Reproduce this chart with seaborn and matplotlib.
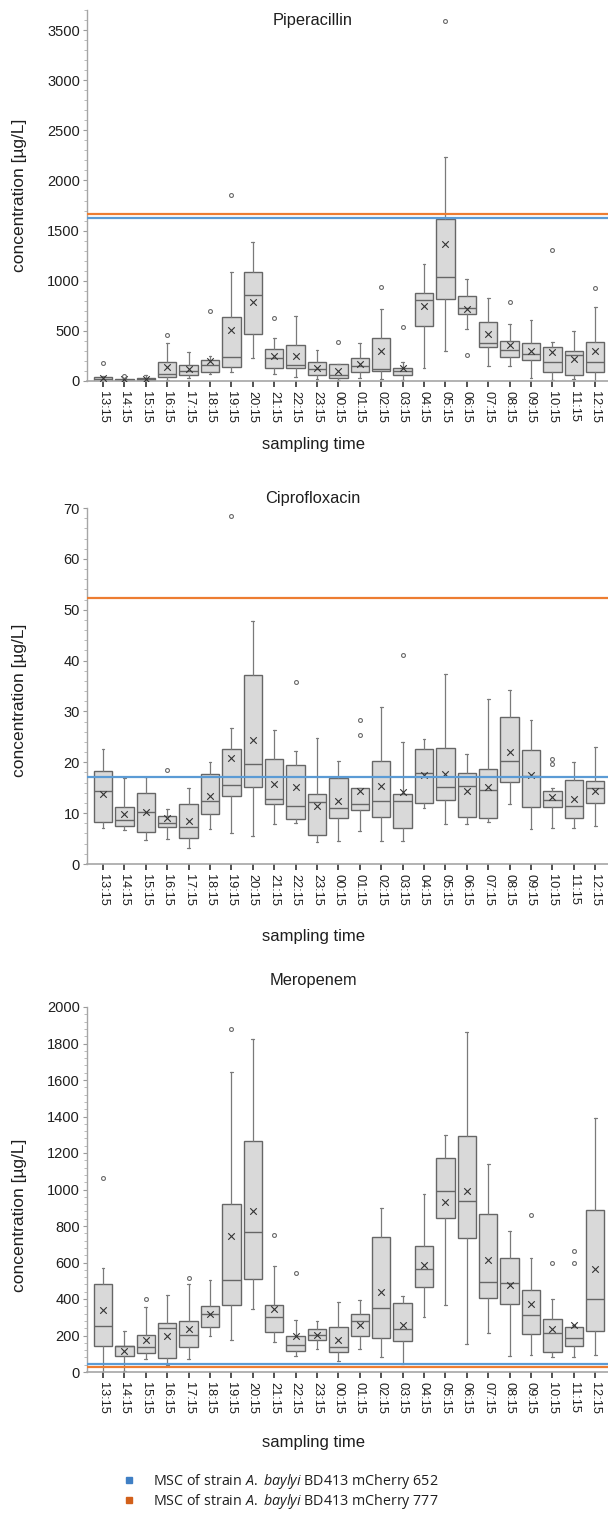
import numpy as np
import matplotlib
matplotlib.use("Agg")
import matplotlib.pyplot as plt
from matplotlib.ticker import MultipleLocator, AutoMinorLocator
from matplotlib.lines import Line2D
import seaborn as sns

# ---------------- data ----------------
times = ["13:15", "14:15", "15:15", "16:15", "17:15", "18:15", "19:15", "20:15",
         "21:15", "22:15", "23:15", "00:15", "01:15", "02:15", "03:15", "04:15",
         "05:15", "06:15", "07:15", "08:15", "09:15", "10:15", "11:15", "12:15"]

# Piperacillin
pip_lo = [0, 0, 0, 13, 33, 70, 87, 233, 73, 37, 15, 12, 33, 22, 12, 132, 303, 518, 152, 152, 27, 8, 15, 0]
pip_q1 = [3, 3, 7, 37, 63, 90, 143, 467, 133, 125, 60, 33, 85, 98, 57, 553, 822, 665, 338, 240, 210, 85, 55, 88]
pip_med = [17, 10, 20, 67, 97, 157, 237, 853, 228, 155, 117, 55, 145, 123, 97, 807, 1033, 733, 383, 305, 267, 187, 258, 185]
pip_q3 = [37, 20, 33, 190, 157, 213, 637, 1083, 317, 362, 185, 165, 232, 430, 125, 873, 1620, 845, 587, 395, 375, 335, 295, 385]
pip_hi = [47, 28, 55, 380, 287, 253, 1087, 1387, 430, 645, 305, 168, 377, 718, 185, 1167, 2231, 1013, 823, 573, 605, 392, 495, 735]
pip_mean = [30, 15, 22, 140, 117, 200, 510, 783, 253, 245, 132, 100, 165, 300, 132, 747, 1370, 723, 468, 357, 300, 288, 222, 295]
pip_out = [[175], [45], [], [455], [], [700], [1857], [], [627], [], [], [393], [], [937], [535], [],
           [3595], [262], [], [792], [], [1310], [], [932]]
pip_msc_652 = 1628
pip_msc_777 = 1668

# Ciprofloxacin
cip_lo = [7.0, 6.6, 4.7, 5.0, 3.1, 6.9, 6.1, 5.5, 7.9, 8.1, 4.4, 4.6, 6.5, 4.5, 4.6, 11.1, 7.9, 7.8, 8.2, 11.8, 6.9, 7.0, 7.1, 7.5]
cip_q1 = [8.3, 7.5, 6.3, 7.2, 5.2, 9.9, 13.4, 15.2, 11.7, 8.8, 5.7, 9.0, 10.7, 9.3, 7.1, 12.0, 12.5, 9.3, 9.1, 16.2, 11.2, 11.3, 9.0, 12.0]
cip_med = [14.3, 8.6, 10.2, 8.0, 7.3, 12.4, 15.6, 19.7, 12.7, 11.5, 12.1, 11.0, 11.7, 12.4, 12.4, 17.8, 15.1, 15.4, 14.6, 20.2, 17.3, 12.5, 11.5, 14.9]
cip_q3 = [18.3, 11.3, 13.9, 9.5, 11.7, 17.6, 22.7, 37.1, 20.7, 19.5, 13.7, 16.9, 14.9, 20.3, 13.8, 22.6, 22.8, 17.9, 18.6, 29.0, 22.5, 14.4, 16.6, 16.4]
cip_hi = [22.7, 16.9, 17.1, 10.8, 14.9, 20.1, 26.7, 47.7, 26.4, 22.2, 24.8, 20.3, 14.9, 30.8, 23.9, 24.6, 37.3, 21.7, 32.4, 34.2, 28.3, 15.0, 20.1, 23.1]
cip_mean = [13.8, 9.8, 10.3, 9.0, 8.4, 13.3, 20.8, 24.4, 15.8, 15.1, 11.4, 12.4, 14.3, 15.4, 14.2, 17.5, 17.7, 14.4, 15.2, 22.1, 17.5, 13.1, 12.8, 14.4]
cip_out = [[], [], [], [18.5], [], [], [68.4], [], [], [35.7], [], [], [25.4, 28.4], [], [41.1], [],
           [], [], [], [], [], [19.7, 20.7], [], []]
cip_msc_652 = 17.1
cip_msc_777 = 52.4

# Meropenem
mer_lo = [0, 5, 73, 36, 71, 196, 173, 345, 162, 89, 125, 62, 127, 82, 45, 300, 365, 151, 213, 87, 95, 82, 82, 95]
mer_q1 = [142, 87, 105, 78, 138, 244, 367, 509, 218, 116, 176, 107, 195, 189, 169, 467, 845, 736, 405, 373, 209, 111, 142, 224]
mer_med = [253, 142, 138, 242, 202, 316, 505, 767, 300, 147, 204, 138, 282, 351, 236, 562, 992, 935, 493, 487, 313, 213, 189, 400]
mer_q3 = [484, 144, 205, 271, 282, 364, 918, 1268, 367, 195, 236, 245, 318, 740, 376, 691, 1171, 1292, 866, 622, 451, 289, 245, 887]
mer_hi = [569, 227, 355, 424, 482, 504, 1645, 1824, 582, 287, 278, 384, 395, 900, 418, 975, 1299, 1861, 1142, 773, 622, 398, 256, 1391]
mer_mean = [338, 116, 178, 195, 236, 318, 745, 884, 345, 195, 202, 178, 258, 440, 256, 585, 930, 990, 616, 478, 371, 238, 256, 567]
mer_out = [[1061], [], [398], [], [515], [], [1881], [], [751], [542], [], [], [], [], [], [],
           [], [], [], [], [858], [598], [598, 665], []]
mer_msc_652 = 46
mer_msc_777 = 29

titles = ["Piperacillin", "Ciprofloxacin", "Meropenem"]
legend_labels = [r"MSC of strain $\mathit{A.\ baylyi}$ BD413 mCherry 652",
                 r"MSC of strain $\mathit{A.\ baylyi}$ BD413 mCherry 777"]

# ---------------- style ----------------
sns.set_theme(style="ticks")
plt.rcParams["font.family"] = ["Liberation Sans", "DejaVu Sans"]
plt.rcParams["mathtext.fontset"] = "custom"
plt.rcParams["mathtext.rm"] = "Open Sans"
plt.rcParams["mathtext.it"] = "Open Sans:italic"

BLUE = "#5b9bd5"
ORANGE = "#ed7d31"
BOX_FACE = "#d9d9d9"
BOX_EDGE = "#666666"
WH = "#7a7a7a"

W, H = 608, 1516
fig = plt.figure(figsize=(W / 100, H / 100), dpi=100)

panels = [
    dict(top=10, bottom=381, ylim=(0, 3700), major=500, minor=5,
         lo=pip_lo, q1=pip_q1, med=pip_med, q3=pip_q3, hi=pip_hi, mean=pip_mean, out=pip_out,
         m652=pip_msc_652, m777=pip_msc_777, title_y=21, xlab_y=445, ylab_y=195),
    dict(top=508, bottom=864, ylim=(0, 70), major=10, minor=5,
         lo=cip_lo, q1=cip_q1, med=cip_med, q3=cip_q3, hi=cip_hi, mean=cip_mean, out=cip_out,
         m652=cip_msc_652, m777=cip_msc_777, title_y=498, xlab_y=937, ylab_y=700),
    dict(top=1007, bottom=1372, ylim=(0, 2000), major=200, minor=5,
         lo=mer_lo, q1=mer_q1, med=mer_med, q3=mer_q3, hi=mer_hi, mean=mer_mean, out=mer_out,
         m652=mer_msc_652, m777=mer_msc_777, title_y=980, xlab_y=1443, ylab_y=1215),
]

left_px = 87
pos = np.arange(len(times))

for i, p in enumerate(panels):
    ax = fig.add_axes([left_px / W, 1 - p["bottom"] / H, (W - left_px) / W,
                       (p["bottom"] - p["top"]) / H])
    stats = []
    for j, t in enumerate(times):
        stats.append(dict(med=p["med"][j], q1=p["q1"][j], q3=p["q3"][j],
                          whislo=p["lo"][j], whishi=p["hi"][j], fliers=[], label=t))
    ax.bxp(stats, positions=pos, widths=0.86, patch_artist=True, showfliers=False,
           boxprops=dict(facecolor=BOX_FACE, edgecolor=BOX_EDGE, linewidth=1.0),
           medianprops=dict(color=BOX_EDGE, linewidth=1.0),
           whiskerprops=dict(color=WH, linewidth=0.9),
           capprops=dict(color=WH, linewidth=0.9),
           capwidths=0.13, manage_ticks=False)
    sns.scatterplot(x=pos, y=p["mean"], marker="x", s=22, color="#333333",
                    linewidth=0.8, ax=ax, zorder=4, legend=False)
    fx = [pos[j] for j, o in enumerate(p["out"]) for _ in o]
    fy = [v for o in p["out"] for v in o]
    ax.plot(fx, fy, linestyle="none", marker="o", markersize=2.8, mfc="none",
            mec="#6a6a6a", mew=0.8, zorder=4)
    ax.axhline(p["m777"], color=ORANGE, lw=1.6, zorder=5)
    ax.axhline(p["m652"], color=BLUE, lw=1.6, zorder=5)

    ax.set_xlim(-0.75, 23.6)
    ax.set_ylim(*p["ylim"])
    ax.yaxis.set_major_locator(MultipleLocator(p["major"]))
    ax.yaxis.set_minor_locator(AutoMinorLocator(p["minor"]))
    ax.set_xticks(pos)
    ax.set_xticklabels(times, rotation=-90, fontsize=9.2, color="#1e1e1e")
    ax.tick_params(axis="x", length=4, width=1.2, color="#333333", pad=3)
    ax.tick_params(axis="y", which="major", length=3, width=0.8, color="#9a9a9a",
                   labelsize=10.5, labelcolor="#1e1e1e", pad=2)
    ax.tick_params(axis="y", which="minor", length=2, width=0.6, color="#b0b0b0")
    for s in ["top", "right"]:
        ax.spines[s].set_visible(False)
    ax.spines["left"].set_color("#a6a6a6")
    ax.spines["bottom"].set_color("#a6a6a6")
    ax.spines["left"].set_linewidth(1.0)
    ax.spines["bottom"].set_linewidth(1.2)
    ax.set_facecolor("white")
    ax.grid(False)
    ax.set_xlabel("")
    ax.set_ylabel("")

    fig.text(313 / W, 1 - p["title_y"] / H, titles[i], ha="center", va="center",
             fontsize=11.8, color="#1e1e1e")
    fig.text(313 / W, 1 - p["xlab_y"] / H, "sampling time", ha="center", va="center",
             fontsize=12, color="#1e1e1e")
    fig.text(20 / W, 1 - p["ylab_y"] / H, "concentration [µg/L]", ha="center",
             va="center", rotation=90, fontsize=12.5, color="#1e1e1e")

handles = [Line2D([], [], linestyle="none", marker="s", markersize=4,
                  color="#3f7fc4"),
           Line2D([], [], linestyle="none", marker="s", markersize=4,
                  color="#d2601a")]
leg = fig.legend(handles, legend_labels, loc="upper left",
                 bbox_to_anchor=(122 / W, 1 - 1472 / H), frameon=False,
                 handlelength=1.0, handletextpad=1.2, labelspacing=0.1,
                 borderaxespad=0, borderpad=0,
                 prop=dict(family="Open Sans", size=10.3))
for t in leg.get_texts():
    t.set_color("#1e1e1e")

fig.savefig("out.png", dpi=100, facecolor="white")
